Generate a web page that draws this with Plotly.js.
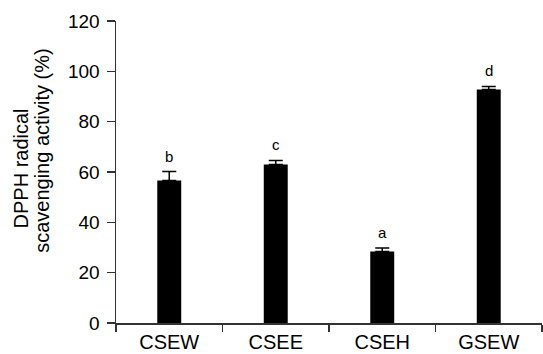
<!DOCTYPE html>
<html>
<head>
<meta charset="utf-8">
<script src="https://cdn.plot.ly/plotly-3.0.1.min.js"></script>
<style>html,body{margin:0;padding:0;background:#fff;}#chart{width:543px;height:354px;}</style>
</head>
<body>
<div id="chart"></div>
<script>
const categories = ["CSEW", "CSEE", "CSEH", "GSEW"];
const values = [56.6, 63.0, 28.4, 92.8];
const errors = [3.6, 1.6, 1.4, 1.2];
const letters = ["b", "c", "a", "d"];
const yTicks = [0, 20, 40, 60, 80, 100, 120];
const yTitleLines = ["DPPH radical", "scavenging activity (%)"];

const font = "Liberation Sans, Arial, sans-serif";

const trace = {
  type: "bar",
  x: categories,
  y: values,
  width: 0.225,
  marker: {color: "#000000", line: {color: "#000000", width: 0}},
  error_y: {type: "data", array: errors, symmetric: false, arrayminus: errors.map(() => 0), color: "#000000", thickness: 1.5, width: 7},
  hoverinfo: "none"
};

const annotations = categories.map((c, i) => ({
  x: c, y: values[i] + errors[i], xref: "x", yref: "y",
  text: letters[i], showarrow: false, yanchor: "bottom", yshift: 5,
  font: {family: font, size: 15, color: "#000"}
}));

// y-axis title drawn as two rotated lines (the original lines are not centred on each other)
annotations.push({
  xref: "paper", yref: "paper", x: 0, y: 0.51, xanchor: "center", yanchor: "middle",
  xshift: -95.5, textangle: -90, showarrow: false, text: yTitleLines[0],
  font: {family: font, size: 20, color: "#000"}
});
annotations.push({
  xref: "paper", yref: "paper", x: 0, y: 0.57, xanchor: "center", yanchor: "middle",
  xshift: -74, textangle: -90, showarrow: false, text: yTitleLines[1],
  font: {family: font, size: 20, color: "#000"}
});

const layout = {
  width: 543, height: 354,
  margin: {l: 116, r: 1, t: 21, b: 31},
  paper_bgcolor: "#fff", plot_bgcolor: "#fff",
  showlegend: false,
  font: {family: font, color: "#000"},
  xaxis: {
    type: "category", tickson: "boundaries", ticks: "outside", ticklen: 7, tickwidth: 1.2, tickcolor: "#333",
    showline: true, linecolor: "#333", linewidth: 1.5, showgrid: false, zeroline: false,
    tickfont: {family: font, size: 20, color: "#000"}, range: [-0.5, 3.5]
  },
  yaxis: {
    range: [0, 120], tickvals: yTicks, ticktext: yTicks.map(String), ticks: "outside", ticklen: 8, tickwidth: 1.2, tickcolor: "#333",
    showline: true, linecolor: "#333", linewidth: 1.5, showgrid: false, zeroline: false,
    tickfont: {family: font, size: 19, color: "#000"}, ticklabelstandoff: 3
  },
  annotations: annotations
};

Plotly.newPlot("chart", [trace], layout, {displayModeBar: false, staticPlot: true});
</script>
</body>
</html>
